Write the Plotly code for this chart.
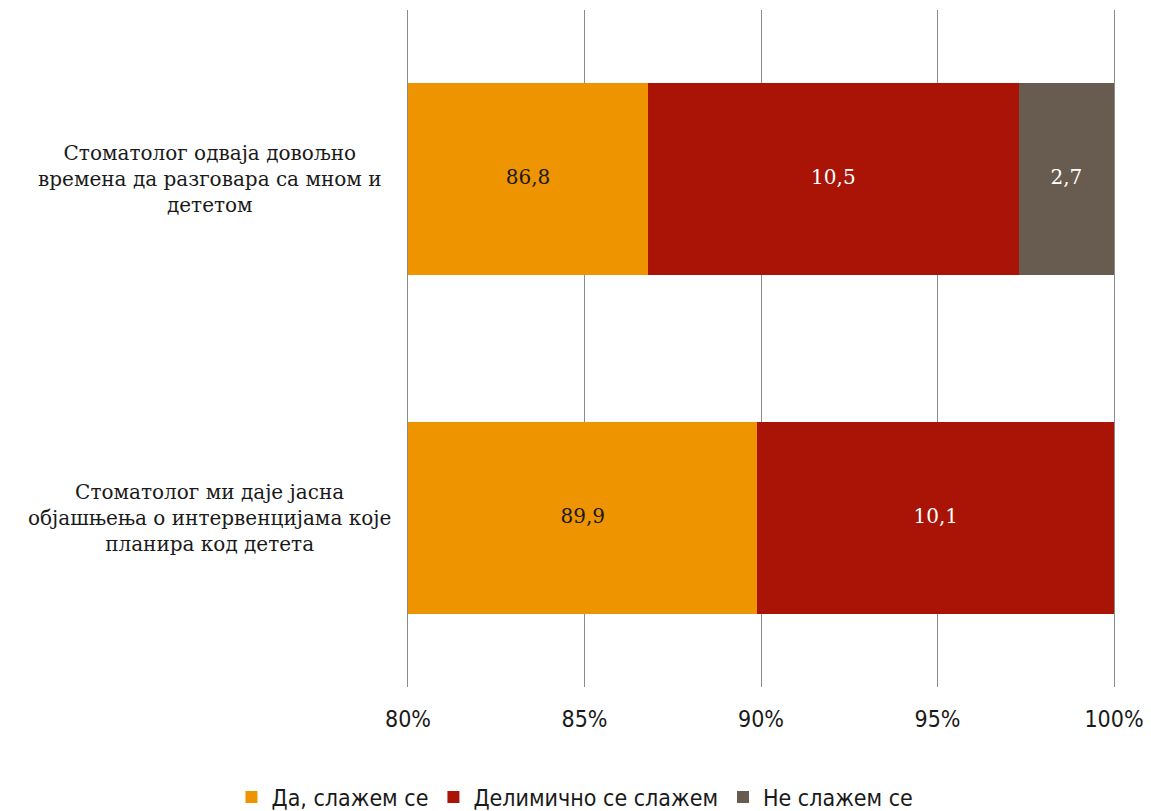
import plotly.graph_objects as go

categories = [
    "Стоматолог ми даје јасна<br>објашњења о интервенцијама које<br>планира код детета",
    "Стоматолог одваја довољно<br>времена да разговара са мном и<br>дететом",
]
series_names = ["Да, слажем се", "Делимично се слажем", "Не слажем се"]
values_yes = [89.9, 86.8]
values_partly = [10.1, 10.5]
values_no = [0.0, 2.7]
tick_vals = [80, 85, 90, 95, 100]
tick_text = ["80%", "85%", "90%", "95%", "100%"]
axis_min, axis_max = 80, 100

colors = ["#EE9400", "#A91407", "#675C4F"]
text_colors = ["#1A1A1A", "#FFFFFF", "#FFFFFF"]
series = [values_yes, values_partly, values_no]
grid_color = "#8C8C8C"

fig = go.Figure()
for name, vals, col in zip(series_names, series, colors):
    fig.add_trace(go.Bar(
        y=categories, x=vals, name=name, orientation="h",
        marker=dict(color=col, line=dict(width=0)),
        hoverinfo="skip",
    ))

# value labels centred in the visible part of each segment
starts = [0.0] * len(categories)
for vals, tcol in zip(series, text_colors):
    xs, ys, ts = [], [], []
    for i, v in enumerate(vals):
        s, e = starts[i], starts[i] + v
        if v > 0:
            xs.append((max(s, axis_min) + min(e, axis_max)) / 2)
            ys.append(categories[i])
            ts.append(f"{v:.1f}".replace(".", ","))
        starts[i] = e
    fig.add_trace(go.Scatter(
        x=xs, y=ys, text=ts, mode="text", showlegend=False, hoverinfo="skip",
        textposition="middle center",
        textfont=dict(family="DejaVu Serif", size=20, color=tcol),
    ))

for cat in categories:
    fig.add_annotation(
        x=-0.2805, xref="paper", y=cat, yref="y", text=cat, showarrow=False,
        xanchor="center", yanchor="middle", align="center",
        font=dict(family="DejaVu Serif", size=20, color="#1A1A1A"),
    )

fig.update_layout(
    width=1151, height=811,
    margin=dict(l=408, r=37, t=10, b=124, autoexpand=False),
    barmode="stack", bargap=0.433,
    paper_bgcolor="white", plot_bgcolor="white",
    showlegend=True,
    legend=dict(orientation="h", x=0.2365, xanchor="center", y=-0.1625, yanchor="middle",
                font=dict(family="Liberation Sans Narrow, DejaVu Sans Condensed, sans-serif", size=23, color="#1A1A1A"),
                traceorder="normal", itemwidth=30),
    xaxis=dict(range=[axis_min, axis_max], tickvals=tick_vals, ticktext=tick_text,
               showgrid=True, gridcolor=grid_color, gridwidth=1, zeroline=False,
               showline=False, ticks="outside", ticklen=11, tickcolor="rgba(0,0,0,0)",
               automargin=False,
               tickfont=dict(family="Liberation Sans Narrow, DejaVu Sans Condensed, sans-serif", size=23, color="#1A1A1A")),
    yaxis=dict(showticklabels=False, showgrid=False, zeroline=False,
               showline=True, mirror=True, linecolor=grid_color, linewidth=1, ticks="",
               automargin=False),
)

fig.write_html("out.html")
